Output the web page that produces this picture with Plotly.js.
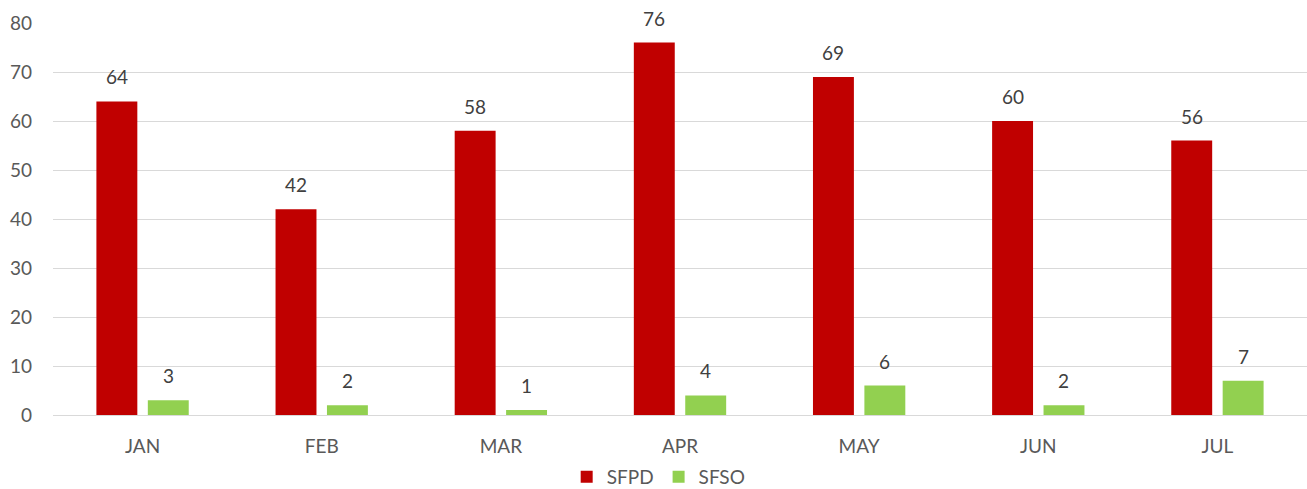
<!DOCTYPE html>
<html><head><meta charset="utf-8">
<script src="https://cdn.plot.ly/plotly-3.0.1.min.js"></script>
<style>html,body{margin:0;padding:0;background:#fff}#chart{width:1307px;height:489px}</style>
</head><body><div id="chart"></div>
<script>
const months = ["JAN","FEB","MAR","APR","MAY","JUN","JUL"];
const sfpd = [64,42,58,76,69,60,56];
const sfso = [3,2,1,4,6,2,7];
const yTicks = [0,10,20,30,40,50,60,70,80];

const font = "Lato, 'Open Sans', sans-serif";
const traces = [
  {type:"bar", name:"SFPD", x:months, y:sfpd, marker:{color:"#c00000"}, hoverinfo:"y"},
  {type:"bar", name:"SFSO", x:months, y:sfso, marker:{color:"#92d050"}, hoverinfo:"y"}
];
const ann = [];
const shift = 25.7;
months.forEach((m,i)=>{
  ann.push({x:m, y:sfpd[i], text:String(sfpd[i]), showarrow:false, xref:"x", yref:"y",
    yanchor:"bottom", xshift:-shift, yshift:11, font:{family:font, size:19, color:"#404040"}});
  ann.push({x:m, y:sfso[i], text:String(sfso[i]), showarrow:false, xref:"x", yref:"y",
    yanchor:"bottom", xshift:shift, yshift:11, font:{family:font, size:19, color:"#404040"}});
});
const layout = {
  width:1307, height:489,
  margin:{l:53, r:0, t:23, b:74, autoexpand:false},
  paper_bgcolor:"#fff", plot_bgcolor:"#fff",
  barmode:"group", bargap:0.426, bargroupgap:0.204,
  font:{family:font, size:19, color:"#595959"},
  xaxis:{type:"category", automargin:false, showgrid:false, zeroline:false, showline:false, ticks:"",
    ticklabelstandoff:18, tickfont:{family:font, size:19, color:"#595959"}, fixedrange:true},
  yaxis:{range:[0,80], automargin:false, tickvals:yTicks, showgrid:true, gridcolor:"#d9d9d9", gridwidth:1,
    zeroline:true, zerolinecolor:"#d9d9d9", zerolinewidth:1, showline:false, ticks:"",
    ticklabelstandoff:20, tickfont:{family:font, size:19, color:"#595959"}, fixedrange:true},
  showlegend:true,
  legend:{orientation:"h", x:0.483, xanchor:"center", y:-0.158, yanchor:"middle",
    font:{family:font, size:19, color:"#595959"}, itemwidth:30, traceorder:"normal"},
  annotations:ann
};
Plotly.newPlot("chart", traces, layout, {displayModeBar:false, staticPlot:true});
</script></body></html>
